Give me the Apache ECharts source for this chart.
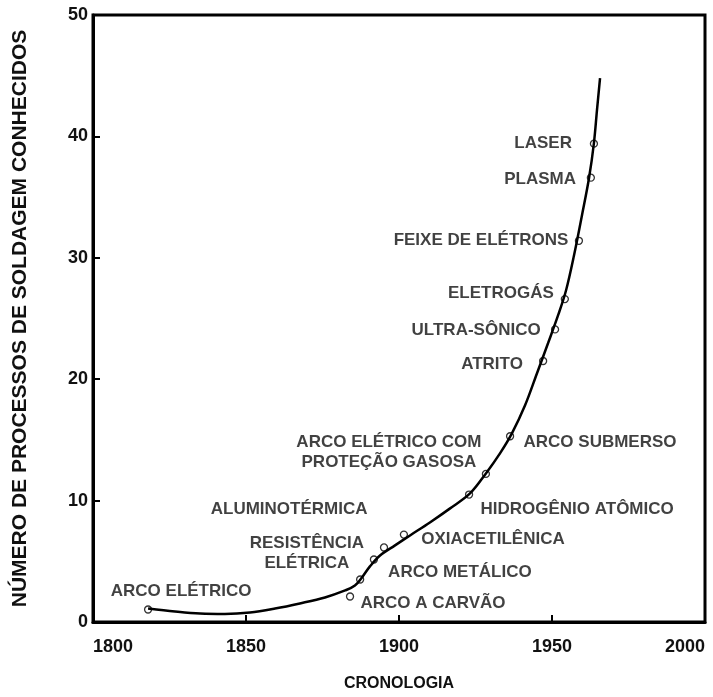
<!DOCTYPE html>
<html>
<head>
<meta charset="utf-8">
<script src="https://cdn.jsdelivr.net/npm/echarts@6/dist/echarts.min.js"></script>
<style>
html,body{margin:0;padding:0;background:#fff;}
#chart{width:713px;height:697px;}
</style>
</head>
<body>
<div id="chart"></div>
<script>
// Observed processes (year, number of known processes)
var pointYears = [1818, 1884, 1887.3, 1891.8, 1895.1, 1901.6, 1922.9, 1928.4, 1936.3, 1947.1, 1951, 1954.2, 1958.8, 1962.7, 1963.7];
var pointCounts = [1.03, 2.1, 3.5, 5.15, 6.14, 7.2, 10.5, 12.2, 15.3, 21.5, 24.1, 26.6, 31.4, 36.6, 39.4];

// Trend curve
var curveYears = [1818, 1826.8, 1835, 1843.1, 1851.3, 1859.5, 1867.6, 1875.8, 1882.4, 1885.6, 1887.9, 1890.5, 1893.8, 1898.7, 1903.6, 1910.1, 1916.7, 1923.2, 1928.4, 1933, 1936.9, 1941.2, 1945.1, 1948.7, 1952, 1954.6, 1957.2, 1959.8, 1962.1, 1963.7, 1964.7, 1965.7];
var curveCounts = [1.11, 0.87, 0.70, 0.66, 0.78, 1.11, 1.53, 2.02, 2.6, 3.0, 3.67, 4.58, 5.48, 6.31, 7.13, 8.2, 9.36, 10.59, 12.24, 13.89, 15.54, 17.85, 20.49, 22.96, 25.27, 27.33, 30.21, 33.51, 36.57, 39.45, 42.17, 44.81];

// Process names and where they sit
var labelTexts = ['ARCO ELÉTRICO', 'ARCO A CARVÃO', 'ARCO METÁLICO', 'RESISTÊNCIA\nELÉTRICA', 'ALUMINOTÉRMICA', 'OXIACETILÊNICA', 'HIDROGÊNIO ATÔMICO', 'ARCO ELÉTRICO COM\nPROTEÇÃO GASOSA', 'ARCO SUBMERSO', 'ATRITO', 'ULTRA-SÔNICO', 'ELETROGÁS', 'FEIXE DE ELÉTRONS', 'PLASMA', 'LASER'];
var labelYears = [1828.8, 1911.1, 1919.9, 1869.9, 1864.1, 1930.7, 1958.2, 1896.7, 1965.7, 1930.4, 1925.2, 1933.3, 1926.8, 1946.1, 1947.1];
var labelCounts = [2.52, 1.52, 4.08, 5.65, 9.27, 6.8, 9.27, 13.97, 14.8, 21.2, 24.0, 27.1, 31.4, 36.5, 39.4];

var xTicks = [1800, 1850, 1900, 1950, 2000];
var yTicks = [0, 10, 20, 30, 40, 50];

var FONT = '"Liberation Sans", Arial, sans-serif';

var chart = echarts.init(document.getElementById('chart'), null, {renderer: 'canvas'});

var option = {
  animation: false,
  backgroundColor: '#fff',
  grid: {
    left: 93, right: 8, top: 15, bottom: 75,
    show: true, borderColor: '#000', borderWidth: 3, backgroundColor: 'transparent'
  },
  xAxis: {
    type: 'value',
    min: xTicks[0], max: xTicks[xTicks.length - 1], interval: 50,
    name: 'CRONOLOGIA',
    nameLocation: 'middle',
    nameGap: 54,
    nameTextStyle: {fontFamily: FONT, fontSize: 16, fontWeight: 'bold', color: '#111'},
    axisLine: {show: true, onZero: false, lineStyle: {color: '#000', width: 3}},
    axisTick: {show: true, inside: true, length: 7, lineStyle: {color: '#000', width: 2}},
    splitLine: {show: false},
    axisLabel: {
      fontFamily: FONT, fontSize: 18, fontWeight: 'bold', color: '#111', margin: 16,
      alignMinLabel: 'left', alignMaxLabel: 'right',
      formatter: function (v) { return String(v); }
    }
  },
  yAxis: {
    type: 'value',
    min: yTicks[0], max: yTicks[yTicks.length - 1], interval: 10,
    name: 'NÚMERO DE PROCESSOS DE SOLDAGEM CONHECIDOS',
    nameLocation: 'middle',
    nameRotate: 90,
    nameGap: 62,
    nameTextStyle: {fontFamily: FONT, fontSize: 21, fontWeight: 'bold', color: '#111'},
    axisLine: {show: true, onZero: false, lineStyle: {color: '#000', width: 3}},
    axisTick: {show: true, inside: true, length: 7, lineStyle: {color: '#000', width: 2}},
    splitLine: {show: false},
    axisLabel: {fontFamily: FONT, fontSize: 18, fontWeight: 'bold', color: '#111', margin: 5,
      formatter: function (v) { return String(v); }}
  },
  series: [
    {
      type: 'line',
      data: curveYears.map(function (x, i) { return [x, curveCounts[i]]; }),
      smooth: 0.35,
      showSymbol: false,
      symbol: 'none',
      lineStyle: {color: '#000', width: 2.5},
      z: 2
    },
    {
      type: 'scatter',
      data: pointYears.map(function (x, i) { return [x, pointCounts[i]]; }),
      symbol: 'circle',
      symbolSize: 7,
      itemStyle: {color: 'rgba(255,255,255,0)', borderColor: '#000', borderWidth: 1.3},
      z: 3
    },
    {
      type: 'scatter',
      data: labelYears.map(function (x, i) { return {value: [x, labelCounts[i]], name: labelTexts[i]}; }),
      symbolSize: 0,
      silent: true,
      label: {
        show: true,
        position: 'inside',
        formatter: function (p) { return p.name; },
        fontFamily: FONT, fontSize: 17, fontWeight: 'bold', color: '#111',
        lineHeight: 20, align: 'center', verticalAlign: 'middle'
      },
      z: 4
    }
  ]
};
chart.setOption(option);
</script>
</body>
</html>
